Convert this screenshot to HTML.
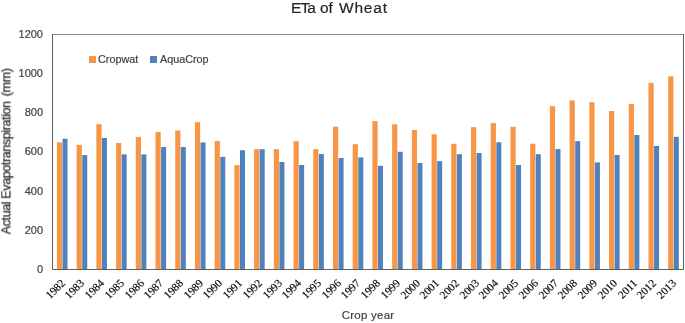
<!DOCTYPE html>
<html><head><meta charset="utf-8"><style>
html,body{margin:0;padding:0;background:#fff;}
body{width:685px;height:323px;overflow:hidden;position:relative;font-family:"Liberation Sans",sans-serif;}
#title,.yl,#xtitle,.lg{will-change:transform;-webkit-text-stroke:0.2px currentColor;}
.tw{-webkit-text-stroke:0.2px currentColor;}
.xl,#ytitle{filter:grayscale(1);}
.t{position:absolute;white-space:nowrap;color:#404040;}
.tw{position:absolute;top:-0.7px;font-size:15.5px;line-height:17px;color:#262626;white-space:nowrap;will-change:transform;}
.yl{position:absolute;right:642.5px;width:40px;text-align:right;font-size:11px;line-height:20px;color:#404040;}
.xl{position:absolute;width:100px;height:20px;text-align:right;font-family:"Liberation Serif",serif;font-size:11.2px;line-height:20px;color:#111;text-shadow:0.35px 0.35px 0 rgba(17,17,17,0.55);transform-origin:100% 100%;transform:rotate(-45deg);}
#ytitle{position:absolute;left:0;top:0;font-size:12.5px;letter-spacing:-0.38px;-webkit-text-stroke:0.25px #2a2a2a;line-height:12px;color:#2a2a2a;white-space:nowrap;transform-origin:0 0;}
#xtitle{position:absolute;left:267.5px;width:200px;text-align:center;font-size:11.5px;letter-spacing:0.25px;line-height:14px;color:#404040;}
.lg{position:absolute;font-size:10.8px;line-height:12px;color:#404040;white-space:nowrap;}
.sq{position:absolute;width:7px;height:7px;}
</style></head><body>
<div class="tw" style="left:290.9px;letter-spacing:-0.95px">ETa</div><div class="tw" style="left:319.6px">of</div><div class="tw" style="left:339.3px;letter-spacing:0.8px">Wheat</div>
<svg width="685" height="323" style="position:absolute;left:0;top:0">
<rect x="56.91" y="142.30" width="5.2" height="127.20" fill="#F79646"/><rect x="62.51" y="138.80" width="5.0" height="130.70" fill="#4F81BD"/><rect x="76.63" y="144.90" width="5.2" height="124.60" fill="#F79646"/><rect x="82.23" y="155.10" width="5.0" height="114.40" fill="#4F81BD"/><rect x="96.35" y="124.20" width="5.2" height="145.30" fill="#F79646"/><rect x="101.95" y="138.00" width="5.0" height="131.50" fill="#4F81BD"/><rect x="116.07" y="143.00" width="5.2" height="126.50" fill="#F79646"/><rect x="121.67" y="154.40" width="5.0" height="115.10" fill="#4F81BD"/><rect x="135.78" y="136.90" width="5.2" height="132.60" fill="#F79646"/><rect x="141.38" y="154.40" width="5.0" height="115.10" fill="#4F81BD"/><rect x="155.50" y="131.90" width="5.2" height="137.60" fill="#F79646"/><rect x="161.10" y="147.00" width="5.0" height="122.50" fill="#4F81BD"/><rect x="175.22" y="130.50" width="5.2" height="139.00" fill="#F79646"/><rect x="180.82" y="147.00" width="5.0" height="122.50" fill="#4F81BD"/><rect x="194.94" y="122.20" width="5.2" height="147.30" fill="#F79646"/><rect x="200.54" y="142.40" width="5.0" height="127.10" fill="#4F81BD"/><rect x="214.66" y="141.00" width="5.2" height="128.50" fill="#F79646"/><rect x="220.26" y="156.90" width="5.0" height="112.60" fill="#4F81BD"/><rect x="234.38" y="165.10" width="5.2" height="104.40" fill="#F79646"/><rect x="239.98" y="150.20" width="5.0" height="119.30" fill="#4F81BD"/><rect x="254.10" y="149.20" width="5.2" height="120.30" fill="#F79646"/><rect x="259.70" y="149.20" width="5.0" height="120.30" fill="#4F81BD"/><rect x="273.82" y="149.20" width="5.2" height="120.30" fill="#F79646"/><rect x="279.42" y="162.00" width="5.0" height="107.50" fill="#4F81BD"/><rect x="293.53" y="141.20" width="5.2" height="128.30" fill="#F79646"/><rect x="299.13" y="165.00" width="5.0" height="104.50" fill="#4F81BD"/><rect x="313.25" y="149.20" width="5.2" height="120.30" fill="#F79646"/><rect x="318.85" y="154.10" width="5.0" height="115.40" fill="#4F81BD"/><rect x="332.97" y="126.70" width="5.2" height="142.80" fill="#F79646"/><rect x="338.57" y="158.00" width="5.0" height="111.50" fill="#4F81BD"/><rect x="352.69" y="144.20" width="5.2" height="125.30" fill="#F79646"/><rect x="358.29" y="157.40" width="5.0" height="112.10" fill="#4F81BD"/><rect x="372.41" y="121.10" width="5.2" height="148.40" fill="#F79646"/><rect x="378.01" y="165.80" width="5.0" height="103.70" fill="#4F81BD"/><rect x="392.13" y="124.30" width="5.2" height="145.20" fill="#F79646"/><rect x="397.73" y="151.80" width="5.0" height="117.70" fill="#4F81BD"/><rect x="411.85" y="130.00" width="5.2" height="139.50" fill="#F79646"/><rect x="417.45" y="163.00" width="5.0" height="106.50" fill="#4F81BD"/><rect x="431.57" y="134.30" width="5.2" height="135.20" fill="#F79646"/><rect x="437.17" y="161.20" width="5.0" height="108.30" fill="#4F81BD"/><rect x="451.28" y="143.80" width="5.2" height="125.70" fill="#F79646"/><rect x="456.88" y="154.20" width="5.0" height="115.30" fill="#4F81BD"/><rect x="471.00" y="127.20" width="5.2" height="142.30" fill="#F79646"/><rect x="476.60" y="153.00" width="5.0" height="116.50" fill="#4F81BD"/><rect x="490.72" y="123.10" width="5.2" height="146.40" fill="#F79646"/><rect x="496.32" y="142.30" width="5.0" height="127.20" fill="#4F81BD"/><rect x="510.44" y="126.80" width="5.2" height="142.70" fill="#F79646"/><rect x="516.04" y="165.00" width="5.0" height="104.50" fill="#4F81BD"/><rect x="530.16" y="143.70" width="5.2" height="125.80" fill="#F79646"/><rect x="535.76" y="154.20" width="5.0" height="115.30" fill="#4F81BD"/><rect x="549.88" y="106.10" width="5.2" height="163.40" fill="#F79646"/><rect x="555.48" y="149.10" width="5.0" height="120.40" fill="#4F81BD"/><rect x="569.60" y="100.40" width="5.2" height="169.10" fill="#F79646"/><rect x="575.20" y="141.10" width="5.0" height="128.40" fill="#4F81BD"/><rect x="589.32" y="102.20" width="5.2" height="167.30" fill="#F79646"/><rect x="594.92" y="162.40" width="5.0" height="107.10" fill="#4F81BD"/><rect x="609.03" y="111.00" width="5.2" height="158.50" fill="#F79646"/><rect x="614.63" y="155.00" width="5.0" height="114.50" fill="#4F81BD"/><rect x="628.75" y="104.10" width="5.2" height="165.40" fill="#F79646"/><rect x="634.35" y="135.00" width="5.0" height="134.50" fill="#4F81BD"/><rect x="648.47" y="82.90" width="5.2" height="186.60" fill="#F79646"/><rect x="654.07" y="146.00" width="5.0" height="123.50" fill="#4F81BD"/><rect x="668.19" y="76.30" width="5.2" height="193.20" fill="#F79646"/><rect x="673.79" y="136.80" width="5.0" height="132.70" fill="#4F81BD"/>
<path d="M52.5 34.5H683.5" stroke="#8c8c8c" stroke-width="1" fill="none"/><path d="M52.5 34.0V269.5H683.5V34.0" stroke="#606060" stroke-width="1" fill="none"/>
</svg>
<div class="yl" style="top:258.90px">0</div><div class="yl" style="top:219.73px">200</div><div class="yl" style="top:180.57px">400</div><div class="yl" style="top:141.40px">600</div><div class="yl" style="top:102.23px">800</div><div class="yl" style="top:63.07px">1000</div><div class="yl" style="top:23.90px">1200</div>
<div class="xl" style="left:-30.34px;top:268.30px">1982</div><div class="xl" style="left:-10.62px;top:268.30px">1983</div><div class="xl" style="left:9.10px;top:268.30px">1984</div><div class="xl" style="left:28.82px;top:268.30px">1985</div><div class="xl" style="left:48.53px;top:268.30px">1986</div><div class="xl" style="left:68.25px;top:268.30px">1987</div><div class="xl" style="left:87.97px;top:268.30px">1988</div><div class="xl" style="left:107.69px;top:268.30px">1989</div><div class="xl" style="left:127.41px;top:268.30px">1990</div><div class="xl" style="left:147.13px;top:268.30px">1991</div><div class="xl" style="left:166.85px;top:268.30px">1992</div><div class="xl" style="left:186.57px;top:268.30px">1993</div><div class="xl" style="left:206.28px;top:268.30px">1994</div><div class="xl" style="left:226.00px;top:268.30px">1995</div><div class="xl" style="left:245.72px;top:268.30px">1996</div><div class="xl" style="left:265.44px;top:268.30px">1997</div><div class="xl" style="left:285.16px;top:268.30px">1998</div><div class="xl" style="left:304.88px;top:268.30px">1999</div><div class="xl" style="left:324.60px;top:268.30px">2000</div><div class="xl" style="left:344.32px;top:268.30px">2001</div><div class="xl" style="left:364.03px;top:268.30px">2002</div><div class="xl" style="left:383.75px;top:268.30px">2003</div><div class="xl" style="left:403.47px;top:268.30px">2004</div><div class="xl" style="left:423.19px;top:268.30px">2005</div><div class="xl" style="left:442.91px;top:268.30px">2006</div><div class="xl" style="left:462.63px;top:268.30px">2007</div><div class="xl" style="left:482.35px;top:268.30px">2008</div><div class="xl" style="left:502.07px;top:268.30px">2009</div><div class="xl" style="left:521.78px;top:268.30px">2010</div><div class="xl" style="left:541.50px;top:268.30px">2011</div><div class="xl" style="left:561.22px;top:268.30px">2012</div><div class="xl" style="left:580.94px;top:268.30px">2013</div>
<div id="ytitle" style="transform:translate(0.3px,234.3px) rotate(-90deg)">Actual Evapotranspiration <span style="margin-left:1.9px;letter-spacing:-0.3px">(mm)</span></div>
<div id="xtitle" style="top:308.4px">Crop year</div>
<div class="sq" style="left:88.6px;top:55.8px;background:#F79646"></div>
<div class="lg" style="left:98px;top:53px">Cropwat</div>
<div class="sq" style="left:150px;top:55.8px;background:#4F81BD"></div>
<div class="lg" style="left:160px;top:53px">AquaCrop</div>
</body></html>
